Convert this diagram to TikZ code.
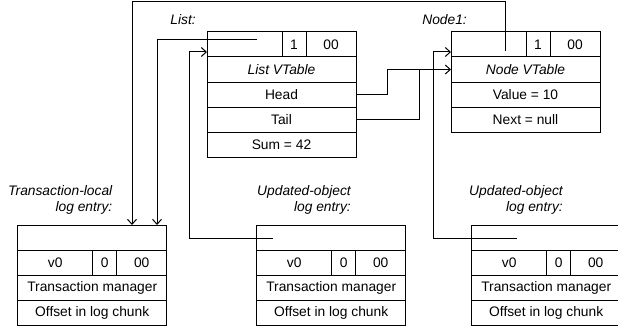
\documentclass[tikz,border=0pt]{standalone}
\usepackage{fontspec}
\setmainfont{Liberation Sans}
\usetikzlibrary{arrows.meta}

\begin{document}
\begin{tikzpicture}[x=1pt,y=-1pt,
		cell/.style={draw, rectangle, line width=1pt, inner sep=0pt, outer sep=0pt,
			minimum height=25pt, minimum width=#1, anchor=north west,
			font=\fontsize{13.8}{16.6}\selectfont},
		lbl/.style={inner sep=0pt, align=right, font=\fontsize{13.8}{16.6}\selectfont\itshape},
		link/.style={line width=1pt, -{Straight Barb[length=5pt,width=9pt]}},
		plain/.style={line width=1pt}]
		\useasboundingbox (0,0) rectangle (618,329);
		%The list object
		\coordinate (list) at (207,32);
		\node [lbl, anchor=east] (list-lbl) at (196,20) {List:};
		\node [cell=75pt] (list-ptr) at (list) {};
		\node [cell=24pt] (list-cnt) at (list-ptr.north east) {1};
		\node [cell=50pt] (list-flag) at (list-cnt.north east) {00};
		\node [cell=149pt] (list-vt) at (list-ptr.south west) {\itshape List VTable};
		\node [cell=149pt] (list-head) at (list-vt.south west) {Head};
		\node [cell=149pt] (list-tail) at (list-head.south west) {Tail};
		\node [cell=149pt] (list-sum) at (list-tail.south west) {Sum = 42};
		%The node object
		\coordinate (node1) at (451,32);
		\node [lbl, anchor=east] (node1-lbl) at (467,20) {Node1:};
		\node [cell=75pt] (node1-ptr) at (node1) {};
		\node [cell=24pt] (node1-cnt) at (node1-ptr.north east) {1};
		\node [cell=50pt] (node1-flag) at (node1-cnt.north east) {00};
		\node [cell=149pt] (node1-vt) at (node1-ptr.south west) {\itshape Node VTable};
		\node [cell=149pt] (node1-val) at (node1-vt.south west) {Value = 10};
		\node [cell=149pt] (node1-next) at (node1-val.south west) {Next = null};
		%Log entries
		\foreach \n/\x in {log1/17.7, log2/256.7, log3/471.7} {
			\coordinate (\n) at (\x,225);
			\node [cell=149pt] (\n-ptr) at (\n) {};
			\node [cell=75pt] (\n-ver) at (\n-ptr.south west) {v0};
			\node [cell=24pt] (\n-cnt) at (\n-ver.north east) {0};
			\node [cell=50pt] (\n-flag) at (\n-cnt.north east) {00};
			\node [cell=149pt] (\n-mgr) at (\n-ver.south west) {Transaction manager};
			\node [cell=149pt] (\n-off) at (\n-mgr.south west) {Offset in log chunk};
		}
		\node [lbl, anchor=east] (log1-lbl) at (112.5,200) {Transaction-local\\log entry:};
		\node [lbl, anchor=east] (log2-lbl) at (351,200) {Updated-object\\log entry:};
		\node [lbl, anchor=east] (log3-lbl) at (563,200) {Updated-object\\log entry:};
		%Pointers into the transaction-local entry
		\coordinate (node1-src) at (505,51);
		\coordinate (loop-top) at (132,2);
		\coordinate (log1-in1) at (132,225);
		\draw [link] (node1-src) |- (loop-top) -- (log1-in1);
		\coordinate (list-src) at (257,40);
		\coordinate (log1-in2) at (157,225);
		\draw [link] (list-src) -| (log1-in2);
		%Pointers from the updated-object entries
		\coordinate (log2-src) at (273,238);
		\coordinate (list-bend) at (189,52);
		\coordinate (list-in) at (207,52);
		\draw [link] (log2-src) -| (list-bend) -- (list-in);
		\coordinate (log3-src) at (517,238);
		\coordinate (node1-bend) at (433,52);
		\coordinate (node1-in) at (451,52);
		\draw [link] (log3-src) -| (node1-bend) -- (node1-in);
		%Head and tail
		\coordinate (head-bend) at (387,69.5);
		\coordinate (tail-join) at (419,69.5);
		\draw [link] (list-head.east) -| (head-bend) -- (node1-vt.west);
		\draw [plain] (list-tail.east) -| (tail-join);
\end{tikzpicture}
\end{document}
